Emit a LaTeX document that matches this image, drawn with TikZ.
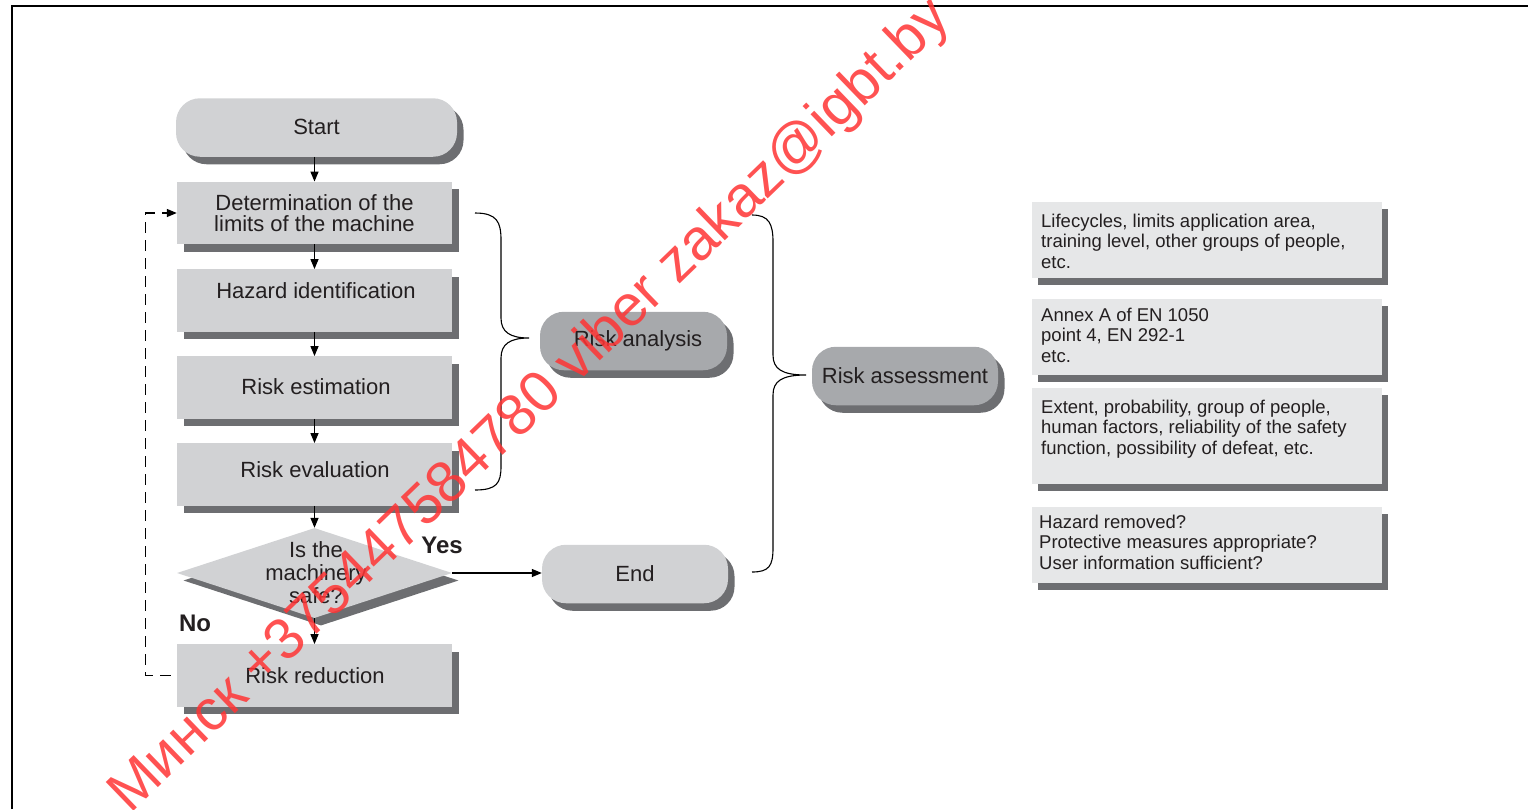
\documentclass[tikz,border=0pt]{standalone}
\usepackage{fontspec}
\setmainfont{Liberation Sans}
\usetikzlibrary{shapes.geometric,shadows,arrows.meta,calc}
\definecolor{lt}{HTML}{D1D2D4}
\definecolor{md}{HTML}{A7A9AC}
\definecolor{sh}{HTML}{6D6E71}
\definecolor{pale}{HTML}{E6E7E8}
\definecolor{ink}{HTML}{231F20}
\definecolor{wm}{HTML}{FF3434}
\newcommand\tp{\rule{0pt}{15pt}}
\begin{document}
\begin{tikzpicture}[x=1pt,y=-1pt,
  every node/.style={text=ink, font=\fontsize{22}{21.5}\selectfont, inner sep=0pt},
  shd/.style={drop shadow={shadow xshift=6.5pt,shadow yshift=-7.5pt,fill=sh,opacity=1}},
  stepbox/.style={rectangle, fill=lt, minimum width=275pt, minimum height=62.5pt, shd, align=center},
  term/.style={rectangle, rounded corners=24pt, fill=lt, minimum width=186pt, minimum height=58.5pt, shd},
  darkterm/.style={term, fill=md},
  notebox/.style={rectangle, fill=pale, minimum width=350pt, minimum height=76pt, drop shadow={shadow xshift=6pt,shadow yshift=-7pt,fill=sh,opacity=1}},
  note/.style={anchor=north west, align=left, font=\fontsize{18.5}{20.5}\selectfont},
  arr/.style={draw=black, line width=1.3pt, -{Triangle[length=10pt,width=8pt]}},
  brace/.style={draw=black, line width=1.1pt},
  yn/.style={font=\fontsize{24}{24}\selectfont\bfseries}
]
\useasboundingbox (0,0) rectangle (1528,809);
% frame
\coordinate (f1) at (12,809);
\coordinate (f2) at (12,6);
\coordinate (f3) at (1528,6);
\draw[line width=1.6pt] (f1) -- (f2) -- (f3);

% flow column
\node[term, minimum width=281pt] (start) at (316.5,127.5) {\raisebox{2pt}{Start}};
\node[stepbox] (det) at (314.5,213) {Determination of the\\limits of the machine};
\node[stepbox] (haz) at (314.5,300.5) {};
\node (hazt) at (316,291) {Hazard identification};
\node[stepbox] (est) at (314.5,387.5) {};
\node (estt) at (316,387) {Risk estimation};
\node[stepbox] (eval) at (314.5,474.5) {};
\node (evalt) at (315,470) {Risk evaluation};
\node[diamond, fill=lt, minimum width=275pt, minimum height=90pt, shd] (safe) at (314.5,573) {};
\node[align=center, font=\fontsize{22}{23}\selectfont] (safet) at (316,573) {Is the\\machinery\\safe?};
\node[stepbox] (red) at (314.5,675.5) {};
\node (redt) at (315,676) {Risk reduction};

% middle column
\node[darkterm, minimum width=187pt] (ra) at (633.5,341) {\hspace{9pt}Risk analysis};
\node[darkterm] (rass) at (905,376) {Risk assessment};
\node[term] (end) at (635,574) {End};

% notes
\node[notebox] (n1) at (1207,240) {};
\node[notebox] (n2) at (1207,337) {};
\node[notebox, minimum height=96.5pt] (n3) at (1207,436) {};
\node[notebox, minimum height=75.5pt] (n4) at (1207,545) {};
\node[note] (t1) at (1041,212) {\tp Lifecycles, limits application area,\\training level, other groups of people,\\etc.};
\node[note] (t2) at (1041,306) {\tp Annex A of EN 1050\\point 4, EN 292-1\\etc.};
\node[note] (t3) at (1041,398) {\tp Extent, probability, group of people,\\human factors, reliability of the safety\\function, possibility of defeat, etc.};
\node[note] (t4) at (1039,513) {\tp Hazard removed?\\Protective measures appropriate?\\User information sufficient?};

% arrows
\draw[arr] (det.north |- start.south) -- (det.north);
\draw[arr] (det.south) -- (haz.north);
\draw[arr] (haz.south) -- (est.north);
\draw[arr] (est.south) -- (eval.north);
\draw[arr] (eval.south) -- (safe.north);
\draw[arr] (safe.south) -- (red.north);
\draw[arr] (safe.east) -- (safe.east -| end.west);
\draw[arr, dash pattern=on 11pt off 7pt, dash phase=12pt] (red.west) -- ++(-31,0) |- (det.west);
\node[yn] (yes) at (442,545) {Yes};
\node[yn] (no) at (195,623) {No};

% braces
\coordinate (b1a) at (475,213);
\coordinate (b1t) at (529,338);
\coordinate (b1b) at (475,490);
\draw[brace] (b1a) .. controls (497,213) and (501,222) .. (501,240) -- (501,318)
  .. controls (501,332) and (510,338) .. (b1t)
  .. controls (510,338) and (501,344) .. (501,358) -- (501,466)
  .. controls (501,483) and (497,490) .. (b1b);
\coordinate (b2a) at (752,215);
\coordinate (b2t) at (806,375);
\coordinate (b2b) at (752,572);
\draw[brace] (b2a) .. controls (769,215) and (773,224) .. (773,242) -- (773,355)
  .. controls (773,369) and (782,375) .. (b2t)
  .. controls (782,375) and (773,381) .. (773,395) -- (773,548)
  .. controls (773,566) and (769,572) .. (b2b);

% watermark
\node[rotate=44, text=wm, opacity=0.85, font=\fontsize{58}{58}\selectfont] (wmk) at (531,407) {Минск +375447584780 viber zakaz@igbt.by};
\end{tikzpicture}
\end{document}
